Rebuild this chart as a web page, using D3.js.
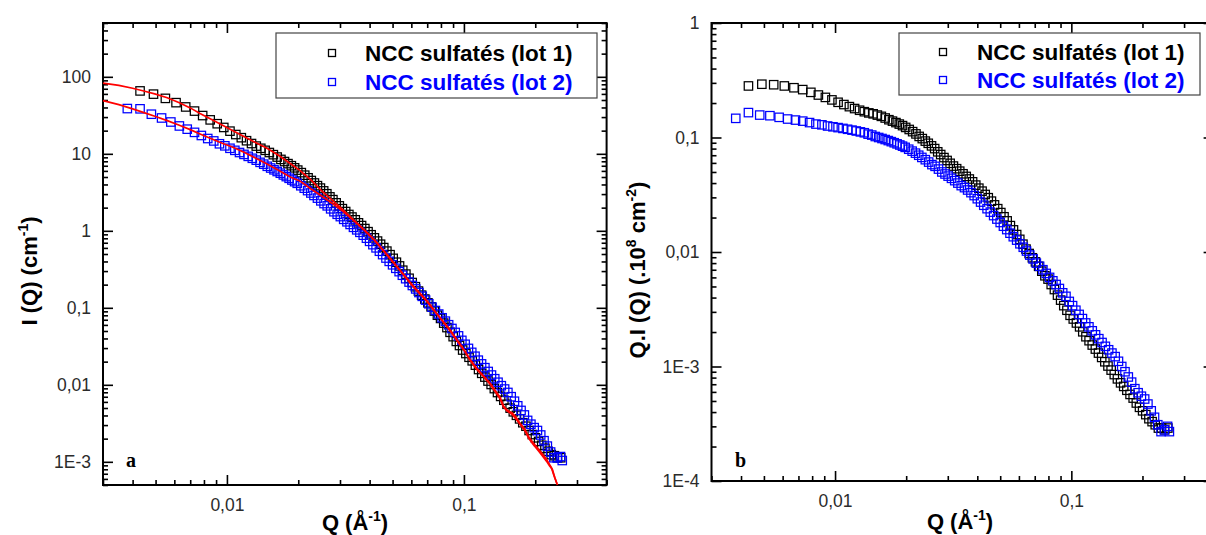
<!DOCTYPE html>
<html><head><meta charset="utf-8">
<script src="https://cdn.jsdelivr.net/npm/d3@7"></script>
<style>html,body{margin:0;padding:0;background:#fff;}svg{display:block;}</style>
</head><body>
<svg id="chart" width="1206" height="535"></svg>
<script>
// ---------------- data ----------------
const seriesNames = ["NCC sulfatés (lot 1)", "NCC sulfatés (lot 2)"];
const seriesColors = ["#000000", "#0000ff"];

const qLot1 = [0.0043,0.0049,0.0055,0.0061,0.0067,0.0073,0.0079,0.0085,0.0091,0.0097,
0.0103,0.0109,0.0115,0.0121,0.0127,0.0133,0.0139,0.0145,0.0151,0.0157,
0.0163,0.0169,0.0175,0.0181,0.0187,0.0193,0.0199,0.0206,0.0213,0.0220,
0.0227,0.0234,0.0241,0.0248,0.0256,0.0264,0.0272,0.0280,0.0289,0.0298,
0.0307,0.0317,0.0327,0.0337,0.0348,0.0359,0.0370,0.0382,0.0394,0.0406,
0.0419,0.0432,0.0445,0.0459,0.0473,0.0488,0.0503,0.0519,0.0535,0.0552,
0.0569,0.0587,0.0605,0.0624,0.0643,0.0663,0.0684,0.0705,0.0727,0.0750,
0.0773,0.0797,0.0822,0.0848,0.0874,0.0901,0.0929,0.0958,0.0988,0.1019,
0.1051,0.1084,0.1118,0.1153,0.1189,0.1226,0.1264,0.1303,0.1344,0.1386,
0.1429,0.1474,0.1520,0.1567,0.1616,0.1666,0.1718,0.1772,0.1827,0.1884,
0.1943,0.2003,0.2066,0.2130,0.2197,0.2265,0.2336,0.2409,0.2484,0.2561];
const iLot1 = [65.6,59.6,52.5,46.2,40.6,35.9,31.4,27.6,24.6,22.0,
19.7,17.8,16.2,14.8,13.6,12.6,11.8,11.1,10.4,9.75,
9.08,8.46,7.94,7.46,7.01,6.58,6.15,5.70,5.28,4.88,
4.50,4.18,3.86,3.59,3.30,3.03,2.76,2.54,2.31,2.11,
1.94,1.78,1.63,1.51,1.39,1.27,1.17,1.07,0.975,0.889,
0.811,0.736,0.670,0.606,0.545,0.490,0.439,0.391,0.350,0.308,
0.274,0.242,0.213,0.188,0.165,0.146,0.130,0.116,0.103,0.0907,
0.0802,0.0728,0.0633,0.0554,0.0481,0.0422,0.0366,0.0324,0.0283,0.0255,
0.0228,0.0205,0.0180,0.0158,0.0141,0.0126,0.0112,0.0101,0.00893,0.00794,
0.00707,0.00631,0.00559,0.00498,0.00446,0.00402,0.00361,0.00322,0.00290,0.00255,
0.00226,0.00205,0.00184,0.00164,0.00150,0.00137,0.00124,0.00120,0.00113,0.00113];
const qiLot1 = [0.282,0.292,0.289,0.282,0.272,0.262,0.248,0.235,0.224,0.213,
0.203,0.194,0.186,0.179,0.173,0.168,0.164,0.161,0.157,0.153,
0.148,0.143,0.139,0.135,0.131,0.127,0.1225,0.1175,0.1125,0.1075,
0.1022,0.0978,0.0930,0.0890,0.0845,0.0800,0.0750,0.0710,0.0668,0.0630,
0.0595,0.0563,0.0534,0.0508,0.0482,0.0457,0.0434,0.0410,0.0384,0.0361,
0.0340,0.0318,0.0298,0.0278,0.0258,0.0239,0.0221,0.0203,0.0187,0.0170,
0.0156,0.0142,0.0129,0.0117,0.0106,0.0097,0.0089,0.0082,0.0075,0.0068,
0.0062,0.0058,0.0052,0.0047,0.0042,0.0038,0.0034,0.0031,0.0028,0.0026,
0.0024,0.00222,0.00201,0.00182,0.00168,0.00154,0.00142,0.00131,0.00120,0.00110,
0.00101,0.00093,0.00085,0.00078,0.00072,0.00067,0.00062,0.00057,0.00053,0.00048,
0.00044,0.00041,0.00038,0.00035,0.00033,0.00031,0.00029,0.00029,0.00028,0.00029];

const qLot2 = [0.0038,0.0043,0.0048,0.0053,0.0058,0.0063,0.0068,0.0073,0.0078,0.0083,
0.0088,0.0093,0.0098,0.0103,0.0108,0.0113,0.0118,0.0123,0.0128,0.0133,
0.0138,0.0143,0.0148,0.0153,0.0158,0.0163,0.0168,0.0173,0.0178,0.0183,
0.0188,0.0193,0.0198,0.0205,0.0212,0.0219,0.0226,0.0233,0.0241,0.0249,
0.0257,0.0265,0.0274,0.0283,0.0292,0.0301,0.0311,0.0321,0.0331,0.0342,
0.0353,0.0364,0.0376,0.0388,0.0400,0.0413,0.0426,0.0440,0.0454,0.0469,
0.0484,0.0500,0.0516,0.0533,0.0550,0.0568,0.0587,0.0606,0.0626,0.0646,
0.0667,0.0689,0.0711,0.0734,0.0758,0.0783,0.0809,0.0835,0.0862,0.0890,
0.0919,0.0949,0.0980,0.1012,0.1045,0.1079,0.1114,0.1150,0.1187,0.1226,
0.1266,0.1307,0.1349,0.1393,0.1438,0.1485,0.1533,0.1583,0.1634,0.1687,
0.1742,0.1799,0.1857,0.1917,0.1979,0.2043,0.2109,0.2178,0.2249,0.2322,
0.2397,0.2475,0.2555,0.2600];
const iLot2 = [38.7,38.4,32.7,29.2,25.9,23.0,20.9,19.0,17.3,15.8,
14.7,13.5,12.7,11.8,11.1,10.4,9.83,9.27,8.75,8.27,
7.75,7.34,6.89,6.54,6.20,5.89,5.60,5.32,5.06,4.81,
4.57,4.35,4.14,3.85,3.58,3.33,3.10,2.88,2.66,2.45,
2.26,2.11,1.93,1.77,1.64,1.53,1.41,1.31,1.21,1.11,
1.03,0.956,0.878,0.802,0.730,0.661,0.601,0.543,0.491,0.443,
0.401,0.362,0.326,0.295,0.265,0.239,0.216,0.195,0.176,0.158,
0.141,0.126,0.113,0.102,0.0923,0.0830,0.0742,0.0671,0.0603,0.0539,
0.0479,0.0432,0.0378,0.0336,0.0297,0.0264,0.0235,0.0209,0.0187,0.0167,
0.0149,0.0134,0.0120,0.0108,0.00974,0.00882,0.00796,0.00701,0.00612,0.00534,
0.00465,0.00406,0.00345,0.00308,0.00278,0.00255,0.00223,0.00188,0.00160,0.00134,
0.00113,0.00113,0.00117,0.00104];
const qiLot2 = [0.147,0.165,0.157,0.155,0.150,0.145,0.142,0.139,0.135,0.131,
0.129,0.126,0.124,0.122,0.120,0.118,0.116,0.114,0.112,0.110,
0.107,0.105,0.102,0.100,0.098,0.096,0.094,0.092,0.090,0.088,
0.086,0.084,0.082,0.079,0.076,0.073,0.070,0.067,0.064,0.061,
0.058,0.056,0.053,0.050,0.048,0.046,0.044,0.042,0.040,0.038,
0.0365,0.0348,0.0330,0.0311,0.0292,0.0273,0.0256,0.0239,0.0223,0.0208,
0.0194,0.0181,0.0168,0.0157,0.0146,0.0136,0.0127,0.0118,0.0110,0.0102,
0.0094,0.0087,0.0080,0.0075,0.0070,0.0065,0.0060,0.0056,0.0052,0.0048,
0.0044,0.0041,0.0037,0.0034,0.0031,0.00285,0.00262,0.00240,0.00222,0.00205,
0.00189,0.00175,0.00162,0.00150,0.00140,0.00131,0.00122,0.00111,0.00100,0.00090,
0.00081,0.00073,0.00064,0.00059,0.00055,0.00052,0.00047,0.00041,0.00036,0.00031,
0.00027,0.00028,0.00030,0.00027];

// fitted curves (red) of panel a
const qFit1 = [0.0030,0.0035,0.0040,0.0045,0.0050,0.0056,0.0063,0.0070,0.0077,0.0085,0.0095,0.0106,0.0118,0.0130,0.0147,0.0165,0.0185,0.0203,0.0225,0.0250,0.0280,0.0310,0.0341,0.0380,0.0420,0.0472,0.0537,0.0600,0.0652,0.0697,0.0750,0.0810,0.0874,0.0950,0.1000,0.1060,0.1130,0.1200,0.1290,0.1360,0.1420,0.1470,0.1520,0.1600,0.1660,0.1720,0.1800,0.1880,0.1960,0.2050,0.2150,0.2230,0.2300,0.2340,0.2400,0.2470];
const iFit1 = [82.8,77.5,71,65,59.5,53.5,46,39.5,33.5,28.5,23.8,20.0,16.8,14.3,11.9,9.6,7.5,6.1,4.65,3.35,2.45,1.85,1.40,1.03,0.76,0.50,0.31,0.205,0.155,0.124,0.093,0.069,0.052,0.036,0.0288,0.0215,0.0165,0.0134,0.0105,0.0083,0.0069,0.0053,0.0047,0.0043,0.0038,0.0032,0.0027,0.0021,0.00177,0.00150,0.00125,0.00108,0.00092,0.00084,0.00066,0.00052];
const qFit2 = [0.0030,0.0035,0.0040,0.0045,0.0050,0.0056,0.0063,0.0070,0.0077,0.0085,0.0095,0.0106,0.0118,0.0130,0.0147,0.0165,0.0185,0.0203,0.0225,0.0250,0.0280,0.0310,0.0341,0.0380,0.0420,0.0472,0.0537,0.0600,0.0652,0.0697,0.0750,0.0810,0.0874,0.0950,0.1000,0.1060,0.1130,0.1200,0.1290,0.1360,0.1420,0.1470,0.1520,0.1600,0.1660,0.1720,0.1800,0.1880,0.1960,0.2050,0.2150,0.2230,0.2300,0.2360,0.2420,0.2480];
const iFit2 = [49,43.5,38.3,34,30.5,27,23.5,20.6,18.1,15.9,13.8,12.2,10.5,9.0,7.45,6.1,5.0,4.45,3.55,2.85,2.25,1.78,1.38,1.02,0.75,0.49,0.305,0.20,0.152,0.122,0.091,0.068,0.0505,0.035,0.0282,0.0210,0.0160,0.0131,0.0102,0.0080,0.0066,0.0051,0.0046,0.0041,0.0036,0.0031,0.0026,0.0020,0.00168,0.00143,0.00118,0.00102,0.00088,0.00080,0.00062,0.00050];

// axes
const xDomain = [0.003, 0.4];
const xMajorTicks = [0.01, 0.1];
const xTickLabels = ["0,01", "0,1"];
const yDomainA = [5e-4, 500];
const yMajorTicksA = [1e-3, 0.01, 0.1, 1, 10, 100];
const yTickLabelsA = ["1E-3", "0,01", "0,1", "1", "10", "100"];
const yDomainB = [1e-4, 1];
const yMajorTicksB = [1e-4, 1e-3, 0.01, 0.1, 1];
const yTickLabelsB = ["1E-4", "1E-3", "0,01", "0,1", "1"];

// ---------------- drawing ----------------
const svg = d3.select("#chart");
const FONT = "'Liberation Sans', Arial, Helvetica, sans-serif";
const SERIF = "'Liberation Serif', 'Times New Roman', serif";

function isPow10(v){ const l = Math.log10(v); return Math.abs(l - Math.round(l)) < 1e-6; }

function styleAxis(sel, labelled){
  sel.select(".domain").remove();
  sel.selectAll(".tick line").attr("stroke", "#000").attr("stroke-width", 1.6);
  sel.selectAll(".tick text").attr("fill", "#2b2b2b").attr("font-size", 17.5).attr("font-family", FONT);
  if (!labelled) sel.selectAll(".tick text").remove();
}

function drawPanel(p){
  const x = d3.scaleLog().domain(xDomain).range([p.x0, p.x1]);
  const y = d3.scaleLog().domain(p.yDomain).range([p.y1, p.y0]);
  const g = svg.append("g");
  const xMinor = x.ticks().filter(v => !isPow10(v));
  const yMinor = y.ticks().filter(v => !isPow10(v));
  const MJ = 10, MN = 5;

  // bottom
  g.append("g").attr("transform", `translate(0,${p.y1})`)
    .call(d3.axisBottom(x).tickValues(xMajorTicks).tickSizeInner(-MJ).tickSizeOuter(0)
      .tickPadding(p.xPad).tickFormat((d, i) => xTickLabels[i]))
    .call(s => styleAxis(s, true));
  g.append("g").attr("transform", `translate(0,${p.y1})`)
    .call(d3.axisBottom(x).tickValues(xMinor).tickSizeInner(-MN).tickSizeOuter(0).tickFormat(""))
    .call(s => styleAxis(s, false));
  // top
  g.append("g").attr("transform", `translate(0,${p.y0})`)
    .call(d3.axisTop(x).tickValues(xMajorTicks).tickSizeInner(-MJ).tickSizeOuter(0).tickFormat(""))
    .call(s => styleAxis(s, false));
  g.append("g").attr("transform", `translate(0,${p.y0})`)
    .call(d3.axisTop(x).tickValues(xMinor).tickSizeInner(-MN).tickSizeOuter(0).tickFormat(""))
    .call(s => styleAxis(s, false));
  // left
  g.append("g").attr("transform", `translate(${p.x0},0)`)
    .call(d3.axisLeft(y).tickValues(p.yMajor).tickSizeInner(-MJ).tickSizeOuter(0)
      .tickPadding(p.yPad).tickFormat((d, i) => p.yLabels[i]))
    .call(s => styleAxis(s, true));
  g.append("g").attr("transform", `translate(${p.x0},0)`)
    .call(d3.axisLeft(y).tickValues(yMinor).tickSizeInner(-MN).tickSizeOuter(0).tickFormat(""))
    .call(s => styleAxis(s, false));
  // right
  g.append("g").attr("transform", `translate(${p.x1},0)`)
    .call(d3.axisRight(y).tickValues(p.yMajor).tickSizeInner(-MJ).tickSizeOuter(0).tickFormat(""))
    .call(s => styleAxis(s, false));
  g.append("g").attr("transform", `translate(${p.x1},0)`)
    .call(d3.axisRight(y).tickValues(yMinor).tickSizeInner(-MN).tickSizeOuter(0).tickFormat(""))
    .call(s => styleAxis(s, false));

  // frame
  g.append("rect").attr("x", p.x0).attr("y", p.y0)
    .attr("width", p.x1 - p.x0).attr("height", p.y1 - p.y0)
    .attr("fill", "none").attr("stroke", "#000").attr("stroke-width", 2);

  // data
  const S = 8.4;
  p.series.forEach((s, k) => {
    const pts = s.q.map((q, i) => ({q, v: s.v[i]}));
    g.append("g").selectAll("rect").data(pts).join("rect")
      .attr("x", d => x(d.q) - S / 2).attr("y", d => y(d.v) - S / 2)
      .attr("width", S).attr("height", S)
      .attr("fill", "none").attr("stroke", seriesColors[k]).attr("stroke-width", 1.25);
  });
  // fits
  (p.fits || []).forEach(f => {
    const pts = f.q.map((q, i) => ({q, v: f.v[i]}));
    g.append("path").datum(pts)
      .attr("d", d3.line().x(d => x(d.q)).y(d => y(d.v)))
      .attr("fill", "none").attr("stroke", "#ff0000").attr("stroke-width", 1.7);
  });

  // legend
  const L = p.legend;
  g.append("rect").attr("x", L.x).attr("y", L.y).attr("width", L.w).attr("height", L.h)
    .attr("fill", "#fff").attr("stroke", "#444").attr("stroke-width", 1.2);
  seriesNames.forEach((name, k) => {
    const cy = L.rows[k];
    g.append("rect").attr("x", L.mx - 3.5).attr("y", cy - 3.5).attr("width", 7).attr("height", 7)
      .attr("fill", "none").attr("stroke", seriesColors[k]).attr("stroke-width", 1.3);
    g.append("text").attr("x", L.tx).attr("y", cy + 8).text(name)
      .attr("font-family", FONT).attr("font-weight", "bold").attr("font-size", 22.5)
      .attr("fill", seriesColors[k]);
  });

  // panel letter
  g.append("text").attr("x", p.letter.x).attr("y", p.letter.y).text(p.letter.t)
    .attr("font-family", SERIF).attr("font-weight", "bold").attr("font-size", 20).attr("fill", "#000");

  // x title
  const xt = g.append("text").attr("x", p.xTitle.x).attr("y", p.xTitle.y)
    .attr("text-anchor", "middle").attr("font-family", FONT).attr("font-weight", "bold")
    .attr("font-size", 22).attr("fill", "#000");
  xt.append("tspan").text("Q (Å");
  xt.append("tspan").attr("font-size", 14).attr("dy", -9).text("-1");
  xt.append("tspan").attr("dy", 9).text(")");

  // y title
  const yt = g.append("text")
    .attr("transform", `translate(${p.yTitle.x},${p.yTitle.y}) rotate(-90)`)
    .attr("text-anchor", "middle").attr("font-family", FONT).attr("font-weight", "bold")
    .attr("font-size", 22).attr("fill", "#000");
  p.yTitle.parts.forEach(part => {
    const ts = yt.append("tspan").text(part.t);
    if (part.sup) ts.attr("font-size", 14).attr("dy", -9);
    if (part.down) ts.attr("dy", 9);
  });
}

drawPanel({
  x0: 103, x1: 606.6, y0: 23, y1: 485,
  yDomain: yDomainA, yMajor: yMajorTicksA, yLabels: yTickLabelsA,
  xPad: 13.5, yPad: 12,
  series: [{q: qLot1, v: iLot1}, {q: qLot2, v: iLot2}],
  fits: [{q: qFit1, v: iFit1}, {q: qFit2, v: iFit2}],
  legend: {x: 276, y: 33, w: 321, h: 65, mx: 332, tx: 365, rows: [53, 82]},
  letter: {x: 126, y: 467, t: "a"},
  xTitle: {x: 355, y: 530},
  yTitle: {x: 37, y: 271, parts: [{t: "I (Q) (cm"}, {t: "-1", sup: true}, {t: ")", down: true}]}
});

drawPanel({
  x0: 711.5, x1: 1213.6, y0: 23, y1: 481,
  yDomain: yDomainB, yMajor: yMajorTicksB, yLabels: yTickLabelsB,
  xPad: 14, yPad: 12,
  series: [{q: qLot1, v: qiLot1}, {q: qLot2, v: qiLot2}],
  fits: [],
  legend: {x: 899, y: 33, w: 301, h: 62, mx: 943, tx: 977, rows: [52, 80]},
  letter: {x: 735, y: 467, t: "b"},
  xTitle: {x: 960, y: 529},
  yTitle: {x: 645, y: 270, parts: [{t: "Q.I (Q) (.10"}, {t: "8", sup: true}, {t: " cm", down: true}, {t: "-2", sup: true}, {t: ")", down: true}]}
});
</script>
</body></html>
